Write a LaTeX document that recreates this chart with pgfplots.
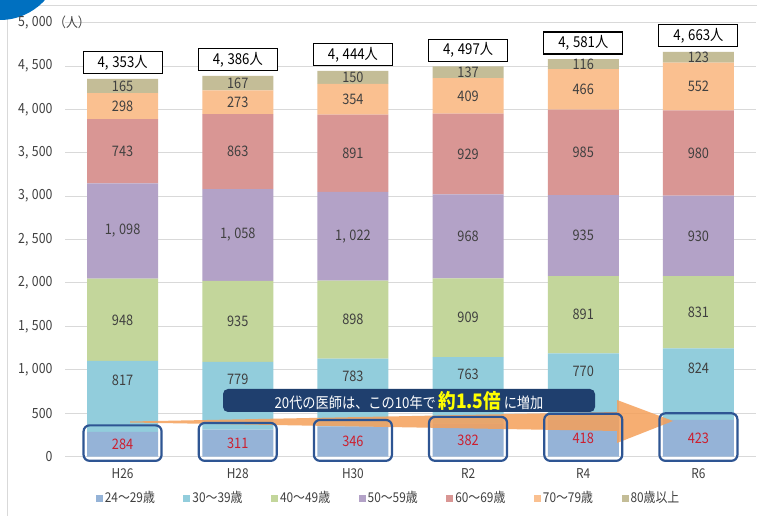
\documentclass[border=0pt]{standalone}
\usepackage{fontspec}
\setmainfont{Noto Sans CJK JP}[FakeStretch=0.88]
\usepackage{pgfplots}
\pgfplotsset{compat=1.18}
\usepackage{pgfplotstable}
\definecolor{cA}{HTML}{95B3D7}
\definecolor{cB}{HTML}{92CDDC}
\definecolor{cC}{HTML}{C3D69B}
\definecolor{cD}{HTML}{B3A2C7}
\definecolor{cE}{HTML}{D99694}
\definecolor{cF}{HTML}{FAC090}
\definecolor{cG}{HTML}{C4BD97}
\definecolor{gridgray}{HTML}{D9D9D9}
\definecolor{tickgray}{HTML}{404040}
\definecolor{labgray}{HTML}{404040}
\definecolor{labred}{HTML}{CC1F2F}
\definecolor{boxblue}{HTML}{2E5593}
\definecolor{bannerblue}{HTML}{1F3F6E}
\definecolor{banneryellow}{HTML}{FFFF00}
\definecolor{arroworange}{HTML}{F5A05A}
\definecolor{circblue}{HTML}{0070C0}
\newcommand\fs[1]{\fontsize{#1bp}{#1bp}\selectfont}
\pgfplotstableread{
x a b c d e f g
0 284 817 948 1098 743 298 165
1 311 779 935 1058 863 273 167
2 346 783 898 1022 891 354 150
3 382 763 909 968 929 409 137
4 418 770 891 935 985 466 116
5 423 824 831 930 980 552 123
}\data
\pgfplotsset{
  ovl/.style={scale only axis, width=691bp, height=433.8bp, xmin=-0.5, xmax=5.5,
    ymin=0, ymax=5000, hide axis, anchor=south west, clip=false},
  sqleg/.style={legend image code/.code={\fill[##1] (0bp,-3.5bp) rectangle (7bp,3.5bp);}},
  lab/.style={draw=none, nodes near coords, point meta=explicit,
    every node near coord/.append style={anchor=center, font=\fs{14.5}, text=labgray}},
}
\begin{document}
\begin{tikzpicture}
\useasboundingbox (0,0) rectangle (757bp,516bp);
\begin{scope}
\clip (0,0) rectangle (757bp,516bp);
\fill[white] (0,0) rectangle (757bp,516bp);
\draw[gridgray, line width=1bp] (7bp,0) -- (7bp,510.5bp) -- (757bp,510.5bp);
\fill[circblue] (0bp,556.6bp) circle (60.6bp);
\end{scope}
\begin{axis}[
  at={(65bp,59.5bp)}, anchor=south west, scale only axis, width=691bp, height=433.8bp,
  xmin=-0.5, xmax=5.5, ymin=0, ymax=5000, clip=false,
  ybar stacked, bar width=71bp,
  axis line style={draw=none}, major tick length=0pt,
  ytick={0,500,...,5000}, ymajorgrids, grid style={draw=gridgray, line width=1bp},
  xtick={0,...,5}, xticklabels={H26,H28,H30,R2,R4,R6},
  scaled y ticks=false,
  yticklabel style={font=\fs{14}, text=tickgray, xshift=-9bp,
    /pgf/number format/1000 sep={,\kern.25em}, /pgf/number format/assume math mode=true},
  xticklabel style={font=\fs{13.5}, text=tickgray, yshift=-9bp},
  legend columns=7,
  legend style={at={(0.04,-0.0957)}, anchor=west, draw=none, fill=none,
    font=\fs{13.5}, text=tickgray,
    /tikz/every even column/.append style={column sep=26.5bp}},
]
\addplot[fill=cA, draw=none, sqleg] table[x=x,y=a]{\data}; \addlegendentry{24～29歳}
\addplot[fill=cB, draw=none, sqleg] table[x=x,y=b]{\data}; \addlegendentry{30～39歳}
\addplot[fill=cC, draw=none, sqleg] table[x=x,y=c]{\data}; \addlegendentry{40～49歳}
\addplot[fill=cD, draw=none, sqleg] table[x=x,y=d]{\data}; \addlegendentry{50～59歳}
\addplot[fill=cE, draw=none, sqleg] table[x=x,y=e]{\data}; \addlegendentry{60～69歳}
\addplot[fill=cF, draw=none, sqleg] table[x=x,y=f]{\data}; \addlegendentry{70～79歳}
\addplot[fill=cG, draw=none, sqleg] table[x=x,y=g]{\data}; \addlegendentry{80歳以上}
\end{axis}
\node[anchor=west, font=\fs{13.5}, text=tickgray, inner sep=0pt] at (54bp,493.5bp) {（人）};
% arrow
\fill[arroworange, opacity=0.85] (130bp,94.5bp) -- (617bp,104bp) -- (617bp,116bp) -- (673bp,95bp) -- (617bp,73bp) -- (617bp,85bp) -- (130bp,93.5bp) -- cycle;
% highlight boxes
\begin{axis}[ovl, at={(65bp,55.16bp)}, ybar, bar width=78bp]
\addplot[draw=boxblue, line width=2.2bp, fill=none, rounded corners=6bp] table[x=x, y expr=\thisrow{a}+125]{\data};
\end{axis}
% labels
\begin{axis}[ovl, at={(65bp,59.5bp)},
  /pgf/number format/1000 sep={,\kern.25em}, /pgf/number format/assume math mode=true]
\addplot[lab, every node near coord/.append style={text=labred}] table[x=x, y expr=\thisrow{a}/2, meta=a]{\data};
\addplot[lab, every node near coord/.append style={yshift=16bp}] table[x=x, y expr=\thisrow{a}+\thisrow{b}/2, meta=b]{\data};
\addplot[lab] table[x=x, y expr=\thisrow{a}+\thisrow{b}+\thisrow{c}/2, meta=c]{\data};
\addplot[lab] table[x=x, y expr=\thisrow{a}+\thisrow{b}+\thisrow{c}+\thisrow{d}/2, meta=d]{\data};
\addplot[lab] table[x=x, y expr=\thisrow{a}+\thisrow{b}+\thisrow{c}+\thisrow{d}+\thisrow{e}/2, meta=e]{\data};
\addplot[lab] table[x=x, y expr=\thisrow{a}+\thisrow{b}+\thisrow{c}+\thisrow{d}+\thisrow{e}+\thisrow{f}/2, meta=f]{\data};
\addplot[lab] table[x=x, y expr=\thisrow{a}+\thisrow{b}+\thisrow{c}+\thisrow{d}+\thisrow{e}+\thisrow{f}+\thisrow{g}/2, meta=g]{\data};
\addplot[draw=none, point meta=y,
  nodes near coords={\pgfmathprintnumber{\pgfplotspointmeta}人},
  every node near coord/.append style={anchor=south, yshift=4.5bp, draw=black, line width=1.1bp,
    fill=white, minimum width=79bp, minimum height=22bp, inner sep=0pt, font=\fs{15}, text=black}]
  table[x=x, y expr=\thisrow{a}+\thisrow{b}+\thisrow{c}+\thisrow{d}+\thisrow{e}+\thisrow{f}+\thisrow{g}]{\data};
\end{axis}
% banner
\node[fill=bannerblue, rounded corners=5bp, minimum width=372bp, minimum height=23bp, inner sep=0pt]
  at (409bp,115.5bp) {\fs{15}\color{white}20代の医師は、この10年で\,{\fs{20}\bfseries\color{banneryellow}約1.5倍}\,に増加};
\end{tikzpicture}
\end{document}
